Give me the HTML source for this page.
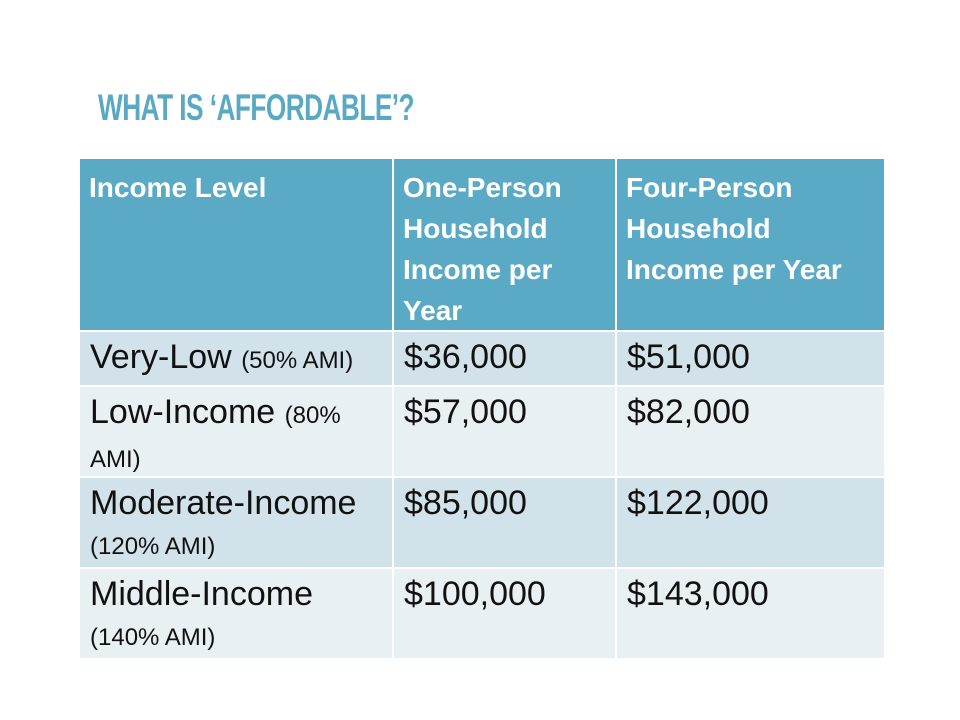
<!DOCTYPE html>
<html><head><meta charset="utf-8">
<style>
html,body{margin:0;padding:0;background:#fff;}
body{width:960px;height:720px;position:relative;overflow:hidden;font-family:"Liberation Sans",sans-serif;}
#title{position:absolute;left:98px;top:84px;font-family:"Liberation Sans Narrow","Liberation Sans",sans-serif;font-weight:bold;font-size:47px;line-height:47px;color:#5aa9c4;white-space:nowrap;transform-origin:0 0;letter-spacing:-1px;}
.cell{position:absolute;box-sizing:border-box;}
.hd{background:#5aaac6;color:#fff;font-weight:bold;font-size:28px;line-height:41px;padding:8px 0 0 9px;}
.a{background:#d1e2ea;}
.b{background:#e9f0f4;}
.bd{color:#111;font-size:34px;line-height:40px;padding:5px 0 0 10px;}
.sm{font-size:24px;}
</style></head><body>
<div id="title">WHAT IS ‘AFFORDABLE’?</div>

<div class="cell hd" style="left:80px;top:159px;width:312px;height:171px;">Income Level</div>
<div class="cell hd" style="left:394px;top:159px;width:221px;height:171px;">One-Person<br>Household<br>Income per<br>Year</div>
<div class="cell hd" style="left:617px;top:159px;width:267px;height:171px;">Four-Person<br>Household<br>Income per Year</div>

<div class="cell bd a" style="left:80px;top:332px;width:312px;height:53px;">Very-Low <span class="sm">(50% AMI)</span></div>
<div class="cell bd a" style="left:394px;top:332px;width:221px;height:53px;">$36,000</div>
<div class="cell bd a" style="left:617px;top:332px;width:267px;height:53px;">$51,000</div>

<div class="cell bd b" style="left:80px;top:387px;width:312px;height:89px;">Low-Income <span class="sm">(80%<br>AMI)</span></div>
<div class="cell bd b" style="left:394px;top:387px;width:221px;height:89px;">$57,000</div>
<div class="cell bd b" style="left:617px;top:387px;width:267px;height:89px;">$82,000</div>

<div class="cell bd a" style="left:80px;top:478px;width:312px;height:89px;">Moderate-Income<br><span class="sm">(120% AMI)</span></div>
<div class="cell bd a" style="left:394px;top:478px;width:221px;height:89px;">$85,000</div>
<div class="cell bd a" style="left:617px;top:478px;width:267px;height:89px;">$122,000</div>

<div class="cell bd b" style="left:80px;top:569px;width:312px;height:89px;">Middle-Income<br><span class="sm">(140% AMI)</span></div>
<div class="cell bd b" style="left:394px;top:569px;width:221px;height:89px;">$100,000</div>
<div class="cell bd b" style="left:617px;top:569px;width:267px;height:89px;">$143,000</div>

<script>
var t=document.getElementById('title');
var w=t.getBoundingClientRect().width;
t.style.transform='scale('+(316/w)+',0.78)';
t.style.top='89px';
</script>
</body></html>
